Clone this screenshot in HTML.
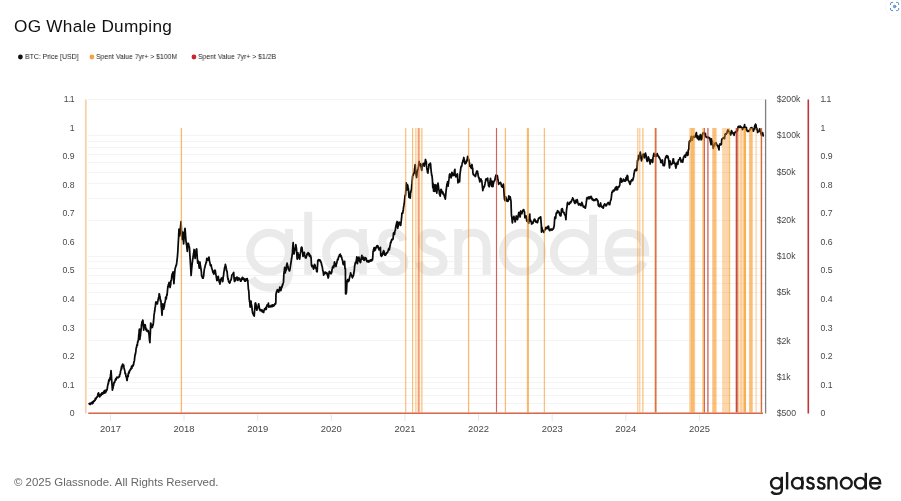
<!DOCTYPE html>
<html><head><meta charset="utf-8"><title>OG Whale Dumping</title>
<style>
html,body{margin:0;padding:0;background:#fff;}
body{width:901px;height:501px;position:relative;overflow:hidden;font-family:"Liberation Sans",sans-serif;}
.title{position:absolute;left:14px;top:14.9px;font-size:17.2px;line-height:22px;color:#111;white-space:nowrap;letter-spacing:0.27px;will-change:transform}
.leg{position:absolute;top:51.9px;font-size:7.6px;line-height:9px;color:#1c1c1c;white-space:nowrap;transform:scaleX(.904);transform-origin:0 0;will-change:transform}
.dot{position:absolute;top:54.4px;width:5.2px;height:5.2px;border-radius:50%}
.foot{position:absolute;left:14px;top:474.7px;font-size:11.46px;line-height:14px;color:#666;white-space:nowrap;will-change:transform}
svg{position:absolute;left:0;top:0;will-change:transform}
text{font-family:"Liberation Sans",sans-serif}
</style></head><body>
<svg width="901" height="501" viewBox="0 0 901 501">
<defs><g id="gn" fill="none" stroke="currentColor" stroke-width="2.4" stroke-linecap="butt">
<circle cx="6.4" cy="-6.3" r="5.35"/>
<path d="M11.8,-12.7V0.00Q11.8,4.4 6.6,4.4Q3,4.4 1.5,1.80"/>
<path d="M17.1,-17.45V-0.1"/>
<circle cx="27.4" cy="-6.3" r="5.35"/>
<path d="M32.2,-12.7V-0.1"/>
<path d="M43.40,-9.5Q42.70,-11.7 40.20,-11.7Q37.60,-11.7 37.60,-9.3Q37.60,-7.3 40.30,-6.6Q43.70,-5.8 43.70,-3.5Q43.70,-0.85 40.40,-0.85Q37.60,-0.85 36.90,-3.5"/>
<path d="M54.20,-9.5Q53.50,-11.7 51.00,-11.7Q48.40,-11.7 48.40,-9.3Q48.40,-7.3 51.10,-6.6Q54.50,-5.8 54.50,-3.5Q54.50,-0.85 51.20,-0.85Q48.40,-0.85 47.70,-3.5"/>
<path d="M58.55,-12.7V-0.1M58.55,-7.3Q58.55,-11.7 62.5,-11.7Q66.4,-11.7 66.4,-7.3V-0.1"/>
<circle cx="76.3" cy="-6.3" r="5.4"/>
<circle cx="90.3" cy="-6.3" r="5.35"/>
<path d="M95.8,-16.65V-0.1"/>
<path d="M100.2,-6.3H110.2Q110.2,-11.7 105.1,-11.7Q100.1,-11.6 100.1,-6.3Q100.1,-0.9 105.2,-0.9Q108.6,-0.9 109.8,-3.6"/>
</g><g id="gw" fill="none" stroke="currentColor" stroke-width="2.2" stroke-linecap="butt">
<circle cx="6.4" cy="-6.3" r="5.35"/>
<path d="M11.8,-12.7V-0.90Q11.8,3.5 6.6,3.5Q3,3.5 1.5,0.90"/>
<path d="M17.1,-17.45V-0.1"/>
<circle cx="27.4" cy="-6.3" r="5.35"/>
<path d="M32.2,-12.7V-0.1"/>
<path d="M43.40,-9.5Q42.70,-11.7 40.20,-11.7Q37.60,-11.7 37.60,-9.3Q37.60,-7.3 40.30,-6.6Q43.70,-5.8 43.70,-3.5Q43.70,-0.85 40.40,-0.85Q37.60,-0.85 36.90,-3.5"/>
<path d="M54.20,-9.5Q53.50,-11.7 51.00,-11.7Q48.40,-11.7 48.40,-9.3Q48.40,-7.3 51.10,-6.6Q54.50,-5.8 54.50,-3.5Q54.50,-0.85 51.20,-0.85Q48.40,-0.85 47.70,-3.5"/>
<path d="M58.55,-12.7V-0.1M58.55,-7.3Q58.55,-11.7 62.5,-11.7Q66.4,-11.7 66.4,-7.3V-0.1"/>
<circle cx="76.3" cy="-6.3" r="5.4"/>
<circle cx="90.3" cy="-6.3" r="5.35"/>
<path d="M95.8,-16.65V-0.1"/>
<path d="M100.2,-6.3H110.2Q110.2,-11.7 105.1,-11.7Q100.1,-11.6 100.1,-6.3Q100.1,-0.9 105.2,-0.9Q108.6,-0.9 109.8,-3.6"/>
</g></defs>
<line x1="88.3" x2="765.5" y1="403.5" y2="403.5" stroke="#f4f4f7" stroke-width="1"/>
<line x1="88.3" x2="765.5" y1="395.5" y2="395.5" stroke="#f4f4f7" stroke-width="1"/>
<line x1="88.3" x2="765.5" y1="388.5" y2="388.5" stroke="#f4f4f7" stroke-width="1"/>
<line x1="88.3" x2="765.5" y1="382.5" y2="382.5" stroke="#f4f4f7" stroke-width="1"/>
<line x1="88.3" x2="765.5" y1="377.5" y2="377.5" stroke="#f4f4f7" stroke-width="1"/>
<line x1="88.3" x2="765.5" y1="340.5" y2="340.5" stroke="#f4f4f7" stroke-width="1"/>
<line x1="88.3" x2="765.5" y1="319.5" y2="319.5" stroke="#f4f4f7" stroke-width="1"/>
<line x1="88.3" x2="765.5" y1="304.5" y2="304.5" stroke="#f4f4f7" stroke-width="1"/>
<line x1="88.3" x2="765.5" y1="292.5" y2="292.5" stroke="#f4f4f7" stroke-width="1"/>
<line x1="88.3" x2="765.5" y1="283.5" y2="283.5" stroke="#f4f4f7" stroke-width="1"/>
<line x1="88.3" x2="765.5" y1="275.5" y2="275.5" stroke="#f4f4f7" stroke-width="1"/>
<line x1="88.3" x2="765.5" y1="268.5" y2="268.5" stroke="#f4f4f7" stroke-width="1"/>
<line x1="88.3" x2="765.5" y1="261.5" y2="261.5" stroke="#f4f4f7" stroke-width="1"/>
<line x1="88.3" x2="765.5" y1="256.5" y2="256.5" stroke="#f4f4f7" stroke-width="1"/>
<line x1="88.3" x2="765.5" y1="220.5" y2="220.5" stroke="#f4f4f7" stroke-width="1"/>
<line x1="88.3" x2="765.5" y1="198.5" y2="198.5" stroke="#f4f4f7" stroke-width="1"/>
<line x1="88.3" x2="765.5" y1="183.5" y2="183.5" stroke="#f4f4f7" stroke-width="1"/>
<line x1="88.3" x2="765.5" y1="172.5" y2="172.5" stroke="#f4f4f7" stroke-width="1"/>
<line x1="88.3" x2="765.5" y1="162.5" y2="162.5" stroke="#f4f4f7" stroke-width="1"/>
<line x1="88.3" x2="765.5" y1="154.5" y2="154.5" stroke="#f4f4f7" stroke-width="1"/>
<line x1="88.3" x2="765.5" y1="147.5" y2="147.5" stroke="#f4f4f7" stroke-width="1"/>
<line x1="88.3" x2="765.5" y1="141.5" y2="141.5" stroke="#f4f4f7" stroke-width="1"/>
<line x1="88.3" x2="765.5" y1="135.5" y2="135.5" stroke="#f4f4f7" stroke-width="1"/>
<line x1="88.3" x2="765.5" y1="99.5" y2="99.5" stroke="#f4f4f7" stroke-width="1"/>
<line x1="88.3" x2="765.5" y1="99.5" y2="99.5" stroke="#f4f4f7" stroke-width="1"/>
<use href="#gw" transform="translate(246.3,275) scale(3.62)" color="#eaeaea"/>
<line x1="110.4" x2="110.4" y1="414.4" y2="420.9" stroke="#e6e6e6" stroke-width="1"/>
<line x1="184.03" x2="184.03" y1="414.4" y2="420.9" stroke="#e6e6e6" stroke-width="1"/>
<line x1="257.66" x2="257.66" y1="414.4" y2="420.9" stroke="#e6e6e6" stroke-width="1"/>
<line x1="331.29" x2="331.29" y1="414.4" y2="420.9" stroke="#e6e6e6" stroke-width="1"/>
<line x1="404.92" x2="404.92" y1="414.4" y2="420.9" stroke="#e6e6e6" stroke-width="1"/>
<line x1="478.55" x2="478.55" y1="414.4" y2="420.9" stroke="#e6e6e6" stroke-width="1"/>
<line x1="552.18" x2="552.18" y1="414.4" y2="420.9" stroke="#e6e6e6" stroke-width="1"/>
<line x1="625.81" x2="625.81" y1="414.4" y2="420.9" stroke="#e6e6e6" stroke-width="1"/>
<line x1="699.44" x2="699.44" y1="414.4" y2="420.9" stroke="#e6e6e6" stroke-width="1"/>
<path d="M89.1,403.6 L89.3,403.8 L89.5,403.4 L89.7,403.9 L89.9,404.0 L90.1,404.5 L90.3,404.1 L90.5,404.0 L90.7,403.1 L90.9,403.4 L91.1,402.8 L91.3,403.2 L91.5,402.9 L91.7,402.9 L91.9,402.8 L92.1,403.8 L92.3,401.9 L92.5,402.0 L92.7,401.8 L92.9,403.1 L93.1,403.0 L93.3,402.2 L93.5,401.8 L93.7,401.1 L93.9,401.2 L94.1,400.6 L94.3,401.2 L94.5,400.4 L94.7,400.5 L94.9,399.9 L95.1,400.3 L95.3,398.4 L95.5,398.9 L95.7,398.1 L95.9,399.1 L96.1,398.8 L96.3,398.3 L96.5,397.8 L96.7,397.0 L96.9,397.0 L97.1,397.1 L97.3,396.5 L97.5,396.6 L97.7,395.7 L97.9,393.9 L98.1,394.6 L98.3,393.3 L98.5,392.9 L98.7,393.5 L98.9,395.8 L99.1,395.8 L99.3,395.6 L99.5,394.6 L99.7,396.8 L99.9,395.5 L100.1,395.2 L100.3,395.6 L100.5,394.6 L100.7,394.8 L100.9,394.7 L101.1,395.5 L101.3,393.7 L101.5,393.7 L101.7,393.3 L102.0,392.8 L102.2,393.3 L102.4,393.3 L102.6,394.1 L102.8,392.6 L103.0,393.3 L103.2,393.0 L103.4,393.4 L103.6,393.0 L103.8,392.5 L104.0,391.1 L104.2,391.8 L104.4,393.1 L104.6,392.6 L104.8,391.3 L105.0,390.3 L105.2,390.8 L105.4,392.4 L105.6,392.7 L105.8,390.6 L106.0,391.2 L106.2,391.3 L106.4,389.8 L106.6,389.6 L106.8,390.1 L107.0,390.1 L107.2,388.8 L107.4,387.6 L107.6,385.8 L107.8,385.3 L108.0,384.3 L108.2,383.2 L108.4,383.6 L108.6,381.4 L108.8,380.1 L109.0,379.8 L109.2,379.6 L109.4,380.8 L109.6,379.4 L109.8,378.0 L110.0,379.3 L110.2,377.7 L110.4,377.1 L110.6,374.2 L110.8,373.7 L111.0,370.7 L111.2,372.3 L111.4,375.8 L111.6,379.1 L111.8,381.5 L112.0,384.1 L112.2,387.2 L112.4,390.1 L112.6,388.5 L112.8,388.9 L113.0,387.9 L113.2,386.1 L113.4,385.9 L113.6,385.7 L113.8,383.6 L114.0,382.4 L114.2,382.6 L114.4,382.5 L114.6,382.7 L114.8,381.5 L115.0,381.1 L115.2,380.8 L115.4,379.3 L115.6,380.5 L115.8,378.6 L116.0,379.9 L116.3,379.2 L116.5,377.8 L116.7,377.9 L116.9,377.1 L117.1,377.2 L117.3,377.5 L117.5,377.6 L117.7,377.6 L117.9,377.3 L118.1,377.8 L118.3,377.6 L118.5,377.2 L118.7,376.9 L118.9,377.1 L119.1,376.4 L119.3,376.3 L119.5,376.6 L119.7,374.3 L119.9,374.5 L120.1,374.1 L120.3,373.2 L120.5,372.0 L120.7,370.5 L120.9,370.4 L121.1,369.0 L121.3,368.4 L121.5,366.5 L121.7,368.9 L121.9,367.3 L122.1,365.8 L122.3,365.1 L122.5,364.6 L122.7,364.1 L122.9,365.0 L123.1,364.8 L123.3,365.6 L123.5,366.7 L123.7,365.2 L123.9,367.2 L124.1,368.0 L124.3,369.1 L124.5,369.6 L124.7,370.5 L124.9,371.2 L125.1,373.8 L125.3,373.1 L125.5,373.5 L125.7,373.8 L125.9,376.3 L126.1,376.5 L126.3,376.8 L126.5,377.8 L126.7,378.3 L126.9,380.3 L127.1,380.5 L127.3,378.7 L127.5,377.7 L127.7,376.1 L128.0,374.9 L128.2,376.5 L128.4,373.0 L128.6,372.8 L128.8,373.5 L129.0,371.7 L129.2,372.9 L129.4,371.4 L129.6,370.4 L129.8,371.0 L130.0,370.5 L130.2,369.7 L130.4,369.9 L130.6,369.7 L130.8,368.3 L131.0,368.3 L131.2,368.9 L131.4,368.4 L131.6,366.1 L131.8,368.4 L132.0,366.6 L132.2,367.0 L132.4,366.4 L132.6,365.6 L132.8,365.6 L133.0,364.9 L133.2,366.0 L133.4,364.5 L133.6,364.6 L133.8,362.2 L134.0,362.3 L134.2,361.3 L134.4,360.7 L134.6,358.7 L134.8,356.6 L135.0,355.8 L135.2,354.0 L135.4,354.5 L135.6,352.6 L135.8,352.2 L136.0,349.7 L136.2,347.9 L136.4,347.7 L136.6,347.5 L136.8,345.1 L137.0,344.7 L137.2,344.7 L137.4,345.1 L137.6,342.0 L137.8,342.2 L138.0,341.7 L138.2,340.2 L138.4,339.7 L138.6,337.3 L138.8,334.4 L139.0,334.0 L139.2,330.4 L139.4,329.1 L139.7,333.6 L139.9,339.5 L140.1,336.8 L140.3,336.3 L140.5,335.0 L140.7,332.2 L140.9,331.2 L141.1,329.2 L141.3,327.4 L141.5,324.6 L141.7,323.9 L141.9,321.8 L142.1,323.1 L142.3,321.5 L142.5,322.2 L142.7,320.1 L142.9,320.4 L143.1,322.6 L143.3,325.7 L143.5,327.7 L143.7,330.1 L143.9,328.4 L144.1,327.9 L144.3,325.9 L144.5,325.8 L144.7,324.6 L144.9,324.6 L145.1,324.9 L145.3,325.4 L145.5,327.6 L145.7,327.2 L145.9,329.7 L146.1,329.1 L146.3,330.1 L146.5,330.9 L146.7,329.1 L146.9,330.1 L147.1,331.2 L147.3,330.6 L147.5,331.0 L147.7,331.1 L147.9,331.7 L148.1,331.4 L148.3,330.6 L148.5,332.0 L148.7,332.3 L148.9,333.7 L149.1,335.1 L149.3,337.6 L149.5,340.0 L149.7,341.3 L149.9,342.6 L150.1,337.0 L150.3,334.0 L150.5,328.4 L150.7,323.1 L150.9,323.3 L151.1,324.4 L151.4,325.8 L151.6,326.2 L151.8,327.6 L152.0,327.0 L152.2,327.5 L152.4,327.3 L152.6,326.2 L152.8,324.7 L153.0,325.3 L153.2,324.4 L153.4,322.8 L153.6,320.4 L153.8,318.6 L154.0,315.3 L154.2,313.9 L154.4,313.2 L154.6,310.7 L154.8,311.1 L155.0,307.9 L155.2,307.1 L155.4,306.5 L155.6,303.8 L155.8,302.5 L156.0,301.9 L156.2,302.3 L156.4,303.9 L156.6,303.3 L156.8,302.8 L157.0,303.5 L157.2,303.0 L157.4,303.8 L157.6,302.3 L157.8,301.3 L158.0,300.6 L158.2,298.9 L158.4,298.3 L158.6,297.5 L158.8,298.2 L159.0,295.2 L159.2,293.9 L159.4,293.8 L159.6,295.4 L159.8,296.9 L160.0,296.7 L160.2,299.4 L160.4,301.0 L160.6,299.9 L160.8,300.6 L161.0,301.4 L161.2,306.2 L161.4,307.5 L161.6,309.1 L161.8,312.9 L162.0,315.3 L162.2,312.0 L162.4,308.9 L162.6,307.3 L162.8,303.8 L163.1,305.2 L163.3,306.3 L163.5,307.3 L163.7,309.2 L163.9,308.2 L164.1,307.2 L164.3,306.6 L164.5,305.1 L164.7,303.2 L164.9,302.6 L165.1,302.2 L165.3,301.1 L165.5,299.4 L165.7,297.1 L165.9,297.6 L166.1,297.4 L166.3,299.0 L166.5,296.3 L166.7,295.8 L166.9,294.5 L167.1,295.1 L167.3,292.6 L167.5,290.7 L167.7,288.2 L167.9,286.3 L168.1,287.2 L168.3,284.7 L168.5,284.7 L168.7,285.0 L168.9,283.2 L169.1,282.4 L169.3,283.2 L169.5,285.2 L169.7,285.8 L169.9,286.3 L170.1,287.5 L170.3,286.1 L170.5,285.2 L170.7,284.3 L170.9,280.8 L171.1,280.2 L171.3,280.4 L171.5,279.2 L171.7,277.0 L171.9,275.1 L172.1,274.8 L172.3,273.5 L172.5,273.5 L172.7,273.9 L172.9,272.4 L173.1,271.8 L173.3,276.2 L173.5,278.2 L173.7,280.7 L173.9,283.6 L174.1,280.4 L174.3,278.4 L174.5,275.2 L174.8,271.9 L175.0,269.4 L175.2,268.4 L175.4,267.6 L175.6,267.1 L175.8,266.8 L176.0,265.3 L176.2,265.1 L176.4,265.0 L176.6,263.7 L176.8,262.4 L177.0,260.3 L177.2,258.7 L177.4,256.9 L177.6,254.3 L177.8,251.9 L178.0,248.1 L178.2,244.2 L178.4,240.6 L178.6,237.6 L178.8,232.7 L179.0,229.2 L179.2,230.7 L179.4,233.3 L179.6,235.9 L179.8,234.0 L180.0,231.5 L180.2,230.4 L180.4,229.0 L180.6,225.7 L180.8,224.3 L181.0,221.7 L181.2,224.7 L181.4,229.5 L181.6,234.2 L181.8,236.7 L182.0,239.5 L182.2,236.6 L182.4,236.1 L182.6,234.9 L182.8,232.1 L183.0,235.6 L183.2,237.6 L183.4,240.6 L183.6,243.9 L183.8,241.5 L184.0,238.4 L184.2,236.7 L184.4,235.0 L184.6,232.3 L184.8,229.4 L185.0,228.3 L185.2,230.2 L185.4,232.7 L185.6,236.7 L185.8,238.6 L186.0,241.1 L186.2,242.3 L186.5,244.7 L186.7,245.5 L186.9,247.6 L187.1,249.1 L187.3,251.4 L187.5,248.9 L187.7,244.4 L187.9,243.5 L188.1,243.2 L188.3,244.8 L188.5,245.2 L188.7,244.0 L188.9,246.6 L189.1,246.4 L189.3,246.9 L189.5,248.2 L189.7,251.5 L189.9,255.6 L190.1,257.9 L190.3,261.3 L190.5,264.6 L190.7,267.6 L190.9,271.4 L191.1,275.5 L191.3,273.2 L191.5,270.4 L191.7,268.4 L191.9,266.4 L192.1,264.3 L192.3,262.7 L192.5,261.3 L192.7,259.1 L192.9,258.7 L193.1,256.4 L193.3,255.5 L193.5,253.6 L193.7,253.3 L193.9,251.2 L194.1,249.5 L194.3,252.7 L194.5,253.6 L194.7,254.5 L194.9,256.4 L195.1,258.5 L195.3,256.9 L195.5,255.4 L195.7,254.5 L195.9,251.9 L196.1,249.9 L196.3,250.1 L196.5,249.0 L196.7,249.1 L196.9,252.5 L197.1,254.8 L197.3,258.7 L197.5,259.8 L197.7,263.1 L197.9,261.8 L198.2,263.0 L198.4,261.1 L198.6,262.5 L198.8,263.4 L199.0,266.5 L199.2,267.9 L199.4,268.1 L199.6,266.9 L199.8,264.6 L200.0,262.2 L200.2,264.7 L200.4,265.3 L200.6,266.7 L200.8,268.0 L201.0,269.5 L201.2,270.5 L201.4,272.3 L201.6,275.6 L201.8,276.2 L202.0,276.6 L202.2,276.6 L202.4,277.6 L202.6,278.0 L202.8,277.6 L203.0,277.9 L203.2,278.2 L203.4,276.3 L203.6,276.1 L203.8,274.3 L204.0,271.9 L204.2,270.5 L204.4,268.8 L204.6,268.2 L204.8,267.3 L205.0,267.0 L205.2,265.3 L205.4,264.8 L205.6,264.4 L205.8,264.0 L206.0,262.8 L206.2,261.8 L206.4,262.4 L206.6,260.1 L206.8,258.3 L207.0,258.7 L207.2,260.1 L207.4,259.4 L207.6,259.9 L207.8,259.4 L208.0,260.1 L208.2,258.9 L208.4,258.6 L208.6,257.7 L208.8,257.2 L209.0,257.2 L209.2,258.6 L209.4,260.6 L209.6,261.5 L209.9,262.8 L210.1,263.6 L210.3,265.5 L210.5,265.2 L210.7,265.7 L210.9,266.0 L211.1,264.9 L211.3,266.0 L211.5,267.1 L211.7,268.1 L211.9,268.3 L212.1,269.4 L212.3,269.8 L212.5,270.3 L212.7,271.5 L212.9,272.3 L213.1,270.9 L213.3,273.2 L213.5,272.7 L213.7,274.0 L213.9,273.3 L214.1,271.9 L214.3,273.7 L214.5,271.9 L214.7,270.6 L214.9,270.1 L215.1,270.7 L215.3,270.5 L215.5,272.8 L215.7,273.2 L215.9,274.5 L216.1,275.4 L216.3,277.0 L216.5,277.9 L216.7,279.5 L216.9,280.6 L217.1,279.7 L217.3,280.1 L217.5,278.0 L217.7,278.9 L217.9,277.4 L218.1,277.0 L218.3,276.3 L218.5,278.7 L218.7,279.3 L218.9,279.3 L219.1,280.9 L219.3,282.3 L219.5,282.3 L219.7,282.9 L219.9,284.1 L220.1,282.7 L220.3,282.9 L220.5,280.3 L220.7,279.6 L220.9,279.8 L221.1,278.8 L221.3,278.2 L221.6,278.9 L221.8,278.1 L222.0,280.1 L222.2,279.6 L222.4,280.8 L222.6,281.5 L222.8,281.5 L223.0,279.3 L223.2,277.1 L223.4,276.3 L223.6,275.1 L223.8,272.9 L224.0,271.3 L224.2,270.8 L224.4,269.5 L224.6,267.7 L224.8,266.9 L225.0,266.9 L225.2,265.5 L225.4,264.3 L225.6,266.2 L225.8,265.9 L226.0,266.8 L226.2,268.2 L226.4,268.8 L226.6,271.0 L226.8,270.8 L227.0,271.0 L227.2,272.7 L227.4,275.1 L227.6,277.0 L227.8,278.2 L228.0,279.4 L228.2,278.5 L228.4,280.7 L228.6,281.5 L228.8,281.8 L229.0,282.3 L229.2,282.5 L229.4,282.7 L229.6,283.1 L229.8,282.0 L230.0,282.6 L230.2,281.3 L230.4,280.7 L230.6,280.2 L230.8,280.3 L231.0,279.8 L231.2,279.6 L231.4,278.0 L231.6,277.6 L231.8,275.3 L232.0,275.0 L232.2,274.7 L232.4,274.5 L232.6,274.4 L232.8,274.3 L233.0,274.1 L233.3,273.4 L233.5,272.6 L233.7,272.5 L233.9,275.5 L234.1,279.0 L234.3,280.0 L234.5,281.5 L234.7,279.6 L234.9,281.1 L235.1,280.2 L235.3,277.9 L235.5,280.7 L235.7,279.0 L235.9,279.0 L236.1,278.3 L236.3,278.0 L236.5,277.6 L236.7,277.7 L236.9,277.0 L237.1,277.0 L237.3,277.7 L237.5,277.9 L237.7,280.4 L237.9,279.8 L238.1,280.1 L238.3,279.3 L238.5,279.7 L238.7,279.4 L238.9,278.0 L239.1,278.2 L239.3,278.9 L239.5,278.3 L239.7,278.5 L239.9,279.1 L240.1,279.3 L240.3,280.0 L240.5,281.1 L240.7,280.5 L240.9,280.4 L241.1,281.0 L241.3,280.7 L241.5,279.7 L241.7,278.4 L241.9,278.2 L242.1,278.9 L242.3,278.0 L242.5,277.3 L242.7,279.0 L242.9,278.7 L243.1,279.0 L243.3,278.0 L243.5,278.9 L243.7,278.6 L243.9,279.4 L244.1,280.0 L244.3,279.6 L244.5,279.7 L244.7,281.1 L245.0,279.0 L245.2,279.5 L245.4,280.2 L245.6,281.2 L245.8,279.3 L246.0,279.7 L246.2,279.1 L246.4,278.9 L246.6,279.0 L246.8,280.2 L247.0,279.5 L247.2,278.6 L247.4,280.2 L247.6,280.7 L247.8,280.2 L248.0,283.9 L248.2,286.3 L248.4,289.2 L248.6,290.1 L248.8,291.2 L249.0,294.3 L249.2,298.8 L249.4,300.2 L249.6,302.0 L249.8,302.3 L250.0,305.8 L250.2,307.1 L250.4,306.1 L250.6,303.8 L250.8,302.3 L251.0,301.2 L251.2,303.2 L251.4,304.6 L251.6,304.9 L251.8,306.4 L252.0,307.9 L252.2,310.4 L252.4,311.4 L252.6,312.9 L252.8,313.6 L253.0,313.5 L253.2,314.2 L253.4,314.6 L253.6,315.1 L253.8,314.8 L254.0,315.0 L254.2,316.1 L254.4,313.7 L254.6,310.5 L254.8,308.7 L255.0,305.7 L255.2,303.1 L255.4,303.1 L255.6,303.0 L255.8,304.3 L256.0,304.4 L256.2,306.3 L256.4,308.0 L256.7,309.9 L256.9,310.2 L257.1,308.8 L257.3,308.6 L257.5,307.5 L257.7,307.1 L257.9,307.0 L258.1,306.8 L258.3,305.1 L258.5,304.3 L258.7,303.8 L258.9,305.4 L259.1,306.0 L259.3,308.0 L259.5,309.2 L259.7,309.7 L259.9,309.3 L260.1,310.5 L260.3,310.2 L260.5,310.0 L260.7,309.6 L260.9,310.3 L261.1,310.2 L261.3,310.9 L261.5,310.7 L261.7,310.7 L261.9,310.2 L262.1,311.6 L262.3,310.2 L262.5,311.9 L262.7,311.8 L262.9,311.9 L263.1,312.2 L263.3,311.4 L263.5,312.3 L263.7,312.5 L263.9,310.8 L264.1,310.4 L264.3,310.2 L264.5,308.9 L264.7,309.9 L264.9,309.6 L265.1,309.0 L265.3,309.2 L265.5,308.7 L265.7,307.7 L265.9,308.8 L266.1,308.0 L266.3,309.3 L266.5,306.7 L266.7,307.0 L266.9,306.0 L267.1,305.0 L267.3,305.7 L267.5,305.2 L267.7,304.8 L267.9,304.4 L268.1,304.1 L268.4,303.1 L268.6,305.3 L268.8,307.1 L269.0,306.7 L269.2,306.9 L269.4,306.8 L269.6,306.9 L269.8,306.2 L270.0,306.3 L270.2,306.6 L270.4,306.4 L270.6,306.0 L270.8,306.4 L271.0,306.8 L271.2,305.4 L271.4,305.8 L271.6,306.5 L271.8,305.4 L272.0,305.7 L272.2,306.6 L272.4,305.7 L272.6,304.8 L272.8,305.4 L273.0,305.1 L273.2,305.4 L273.4,305.5 L273.6,306.2 L273.8,304.8 L274.0,305.2 L274.2,305.3 L274.4,305.1 L274.6,304.5 L274.8,304.3 L275.0,303.6 L275.2,303.8 L275.4,303.3 L275.6,304.0 L275.8,302.5 L276.0,293.8 L276.2,293.5 L276.4,292.4 L276.6,291.5 L276.8,291.9 L277.0,291.3 L277.2,289.9 L277.4,290.4 L277.6,289.7 L277.8,289.8 L278.0,289.8 L278.2,291.2 L278.4,291.1 L278.6,292.2 L278.8,292.0 L279.0,290.9 L279.2,290.4 L279.4,289.7 L279.6,288.5 L279.8,287.2 L280.1,288.2 L280.3,287.3 L280.5,289.2 L280.7,290.7 L280.9,289.8 L281.1,289.9 L281.3,288.4 L281.5,287.7 L281.7,287.5 L281.9,286.4 L282.1,286.9 L282.3,285.4 L282.5,284.4 L282.7,285.0 L282.9,284.0 L283.1,283.3 L283.3,282.7 L283.5,281.9 L283.7,277.4 L283.9,273.6 L284.1,272.0 L284.3,270.7 L284.5,268.7 L284.7,267.4 L284.9,269.6 L285.1,272.9 L285.3,272.3 L285.5,271.6 L285.7,270.6 L285.9,270.5 L286.1,270.1 L286.3,269.4 L286.5,266.0 L286.7,264.7 L286.9,265.5 L287.1,263.1 L287.3,264.1 L287.5,264.9 L287.7,266.2 L287.9,266.3 L288.1,267.1 L288.3,268.3 L288.5,269.3 L288.7,269.4 L288.9,270.1 L289.1,269.6 L289.3,270.8 L289.5,270.9 L289.7,270.4 L289.9,269.2 L290.1,269.0 L290.3,266.9 L290.5,265.8 L290.7,264.1 L290.9,263.1 L291.1,262.0 L291.3,260.6 L291.5,258.9 L291.8,257.3 L292.0,256.1 L292.2,254.3 L292.4,252.9 L292.6,249.9 L292.8,247.1 L293.0,244.3 L293.2,242.7 L293.4,250.9 L293.6,251.9 L293.8,252.4 L294.0,254.0 L294.2,253.3 L294.4,252.4 L294.6,250.3 L294.8,250.6 L295.0,249.1 L295.2,247.7 L295.4,247.6 L295.6,245.6 L295.8,244.7 L296.0,245.7 L296.2,247.7 L296.4,247.7 L296.6,250.4 L296.8,252.8 L297.0,257.2 L297.2,259.1 L297.4,257.1 L297.6,255.9 L297.8,254.2 L298.0,252.9 L298.2,253.8 L298.4,254.5 L298.6,256.4 L298.8,257.5 L299.0,257.4 L299.2,258.5 L299.4,258.3 L299.6,259.1 L299.8,258.1 L300.0,256.3 L300.2,253.9 L300.4,253.2 L300.6,252.1 L300.8,251.2 L301.0,249.6 L301.2,247.7 L301.4,247.6 L301.6,247.1 L301.8,247.3 L302.0,247.5 L302.2,249.0 L302.4,251.1 L302.6,252.1 L302.8,254.8 L303.0,256.4 L303.3,256.0 L303.5,254.6 L303.7,254.3 L303.9,253.9 L304.1,253.3 L304.3,252.4 L304.5,254.2 L304.7,255.9 L304.9,255.9 L305.1,256.4 L305.3,257.6 L305.5,257.1 L305.7,257.5 L305.9,258.0 L306.1,257.9 L306.3,256.4 L306.5,256.4 L306.7,255.8 L306.9,254.7 L307.1,253.8 L307.3,254.3 L307.5,253.3 L307.7,253.3 L307.9,254.2 L308.1,252.7 L308.3,254.3 L308.5,253.6 L308.7,254.8 L308.9,254.6 L309.1,254.3 L309.3,253.7 L309.5,256.3 L309.7,255.3 L309.9,255.0 L310.1,255.4 L310.3,255.9 L310.5,256.8 L310.7,255.8 L310.9,257.4 L311.1,258.0 L311.3,262.3 L311.5,265.5 L311.7,265.2 L311.9,266.6 L312.1,265.2 L312.3,266.3 L312.5,266.0 L312.7,266.2 L312.9,266.0 L313.1,267.1 L313.3,268.4 L313.5,269.1 L313.7,268.8 L313.9,267.0 L314.1,266.1 L314.3,265.8 L314.5,264.3 L314.7,264.5 L315.0,265.3 L315.2,265.9 L315.4,268.0 L315.6,267.6 L315.8,268.1 L316.0,268.2 L316.2,268.8 L316.4,269.2 L316.6,271.5 L316.8,270.7 L317.0,271.0 L317.2,271.8 L317.4,266.7 L317.6,264.8 L317.8,260.5 L318.0,260.6 L318.2,260.4 L318.4,259.9 L318.6,260.5 L318.8,259.6 L319.0,260.6 L319.2,260.0 L319.4,260.3 L319.6,259.9 L319.8,259.9 L320.0,260.6 L320.2,261.4 L320.4,260.4 L320.6,261.1 L320.8,261.6 L321.0,262.6 L321.2,262.8 L321.4,263.1 L321.6,264.8 L321.8,264.9 L322.0,266.0 L322.2,266.6 L322.4,267.6 L322.6,269.0 L322.8,270.9 L323.0,270.8 L323.2,271.6 L323.4,273.5 L323.6,275.1 L323.8,274.7 L324.0,274.4 L324.2,273.7 L324.4,273.7 L324.6,273.5 L324.8,273.0 L325.0,272.2 L325.2,272.6 L325.4,272.7 L325.6,273.1 L325.8,272.3 L326.0,273.5 L326.2,272.6 L326.4,273.5 L326.7,272.9 L326.9,273.3 L327.1,273.2 L327.3,274.4 L327.5,275.6 L327.7,275.8 L327.9,276.4 L328.1,278.0 L328.3,277.8 L328.5,276.8 L328.7,275.2 L328.9,274.2 L329.1,272.7 L329.3,271.5 L329.5,271.4 L329.7,271.8 L329.9,272.1 L330.1,272.6 L330.3,273.3 L330.5,273.5 L330.7,273.4 L330.9,273.6 L331.1,273.7 L331.3,273.6 L331.5,272.6 L331.7,272.4 L331.9,270.5 L332.1,269.3 L332.3,268.7 L332.5,267.1 L332.7,267.1 L332.9,266.9 L333.1,267.2 L333.3,266.0 L333.5,267.1 L333.7,267.7 L333.9,265.7 L334.1,265.8 L334.3,263.5 L334.5,261.9 L334.7,262.5 L334.9,264.3 L335.1,263.4 L335.3,263.7 L335.5,264.6 L335.7,264.6 L335.9,266.5 L336.1,265.9 L336.3,264.5 L336.5,263.9 L336.7,263.2 L336.9,262.6 L337.1,261.1 L337.3,260.8 L337.5,259.6 L337.7,259.1 L337.9,259.1 L338.1,259.7 L338.3,258.1 L338.5,257.7 L338.7,257.1 L338.9,256.3 L339.1,256.6 L339.3,255.7 L339.5,254.8 L339.7,254.6 L339.9,254.7 L340.1,254.3 L340.3,254.1 L340.5,255.8 L340.7,256.5 L340.9,255.6 L341.1,255.8 L341.3,256.0 L341.5,257.0 L341.8,257.7 L342.0,259.0 L342.2,259.7 L342.4,259.9 L342.6,260.4 L342.8,262.3 L343.0,263.7 L343.2,264.2 L343.4,264.6 L343.6,262.8 L343.8,262.5 L344.0,263.3 L344.2,262.8 L344.4,261.8 L344.6,261.3 L344.8,265.3 L345.0,268.8 L345.2,268.3 L345.4,268.8 L345.6,293.8 L345.8,293.6 L346.0,293.8 L346.2,292.3 L346.4,292.7 L346.6,289.3 L346.8,285.1 L347.0,281.5 L347.2,280.9 L347.4,280.6 L347.6,279.7 L347.8,279.4 L348.0,280.1 L348.2,281.0 L348.4,281.5 L348.6,281.4 L348.8,281.0 L349.0,280.5 L349.2,279.3 L349.4,278.4 L349.6,277.2 L349.8,276.6 L350.0,275.6 L350.2,275.2 L350.4,274.2 L350.6,272.9 L350.8,274.5 L351.0,274.1 L351.2,274.3 L351.4,274.8 L351.6,275.7 L351.8,276.2 L352.0,276.2 L352.2,277.2 L352.4,277.8 L352.6,277.0 L352.8,276.7 L353.0,276.5 L353.2,275.5 L353.4,275.8 L353.6,274.8 L353.8,273.4 L354.0,271.8 L354.2,270.8 L354.4,269.3 L354.6,266.6 L354.8,265.1 L355.0,264.5 L355.2,263.1 L355.4,262.7 L355.6,262.2 L355.8,262.2 L356.0,262.5 L356.2,260.5 L356.4,260.4 L356.6,258.7 L356.8,256.9 L357.0,258.9 L357.2,260.7 L357.4,263.7 L357.6,262.2 L357.8,261.2 L358.0,259.4 L358.2,257.7 L358.4,258.1 L358.6,258.3 L358.9,257.1 L359.1,258.0 L359.3,259.5 L359.5,260.4 L359.7,261.6 L359.9,260.7 L360.1,261.4 L360.3,262.1 L360.5,262.5 L360.7,261.8 L360.9,260.3 L361.1,258.6 L361.3,258.1 L361.5,256.7 L361.7,256.3 L361.9,255.4 L362.1,259.1 L362.3,258.6 L362.5,258.7 L362.7,258.2 L362.9,257.5 L363.1,258.7 L363.3,257.7 L363.5,257.3 L363.7,257.2 L363.9,260.2 L364.1,260.3 L364.3,259.9 L364.5,259.2 L364.7,259.4 L364.9,258.2 L365.1,258.7 L365.3,258.7 L365.5,259.6 L365.7,257.6 L365.9,258.4 L366.1,258.3 L366.3,259.0 L366.5,260.2 L366.7,260.3 L366.9,261.5 L367.1,261.6 L367.3,261.6 L367.5,261.3 L367.7,261.5 L367.9,261.3 L368.1,261.9 L368.3,260.7 L368.5,261.7 L368.7,261.3 L368.9,262.1 L369.1,261.1 L369.3,261.2 L369.5,261.2 L369.7,260.5 L369.9,260.7 L370.1,260.4 L370.3,261.2 L370.5,260.7 L370.7,259.9 L370.9,260.3 L371.1,260.8 L371.3,260.6 L371.5,260.8 L371.7,260.8 L371.9,260.2 L372.1,259.3 L372.3,259.2 L372.5,259.8 L372.7,258.0 L372.9,254.7 L373.1,251.4 L373.3,251.1 L373.5,249.6 L373.7,249.5 L373.9,248.4 L374.1,247.7 L374.3,250.9 L374.5,249.3 L374.7,250.6 L374.9,250.2 L375.1,249.8 L375.3,249.9 L375.5,249.2 L375.7,247.5 L376.0,247.3 L376.2,247.4 L376.4,247.8 L376.6,247.3 L376.8,246.0 L377.0,246.5 L377.2,246.0 L377.4,245.6 L377.6,245.9 L377.8,245.9 L378.0,246.1 L378.2,247.1 L378.4,248.1 L378.6,248.6 L378.8,248.3 L379.0,249.8 L379.2,248.7 L379.4,249.2 L379.6,248.5 L379.8,248.2 L380.0,248.0 L380.2,247.9 L380.4,247.3 L380.6,251.8 L380.8,255.4 L381.0,255.5 L381.2,255.4 L381.4,256.3 L381.6,255.1 L381.8,255.9 L382.0,255.1 L382.2,255.5 L382.4,253.6 L382.6,253.4 L382.8,254.4 L383.0,251.9 L383.2,252.4 L383.4,251.6 L383.6,250.7 L383.8,252.1 L384.0,251.2 L384.2,251.9 L384.4,252.9 L384.6,254.0 L384.8,255.1 L385.0,254.8 L385.2,254.1 L385.4,255.2 L385.6,254.9 L385.8,254.7 L386.0,254.1 L386.2,253.9 L386.4,253.3 L386.6,252.9 L386.8,252.8 L387.0,252.7 L387.2,252.9 L387.4,252.5 L387.6,251.6 L387.8,251.9 L388.0,250.8 L388.2,250.4 L388.4,249.9 L388.6,249.1 L388.8,248.4 L389.0,249.7 L389.2,249.3 L389.4,249.8 L389.6,247.9 L389.8,247.4 L390.0,245.6 L390.2,245.3 L390.4,243.5 L390.6,242.4 L390.8,242.2 L391.0,242.6 L391.2,240.9 L391.4,241.1 L391.6,240.1 L391.8,239.3 L392.0,240.2 L392.2,239.7 L392.4,239.5 L392.6,239.2 L392.8,239.3 L393.1,239.0 L393.3,235.9 L393.5,233.1 L393.7,233.3 L393.9,232.6 L394.1,232.9 L394.3,232.8 L394.5,234.3 L394.7,232.8 L394.9,231.1 L395.1,230.6 L395.3,230.6 L395.5,228.5 L395.7,227.3 L395.9,226.5 L396.1,225.0 L396.3,225.2 L396.5,223.7 L396.7,222.6 L396.9,223.2 L397.1,221.5 L397.3,222.5 L397.5,225.4 L397.7,228.3 L397.9,226.9 L398.1,226.5 L398.3,225.9 L398.5,223.7 L398.7,223.3 L398.9,222.6 L399.1,222.1 L399.3,222.2 L399.5,222.5 L399.7,223.3 L399.9,224.3 L400.1,224.3 L400.3,224.8 L400.5,225.4 L400.7,225.4 L400.9,223.4 L401.1,221.8 L401.3,220.4 L401.5,218.4 L401.7,216.8 L401.9,213.2 L402.1,213.3 L402.3,213.2 L402.5,212.9 L402.7,213.3 L402.9,211.6 L403.1,211.1 L403.3,210.3 L403.5,207.5 L403.7,206.9 L403.9,205.7 L404.1,203.5 L404.3,203.3 L404.5,200.8 L404.7,199.1 L404.9,197.1 L405.1,195.3 L405.3,195.9 L405.5,195.4 L405.7,192.6 L405.9,188.8 L406.1,185.4 L406.3,182.8 L406.5,184.4 L406.7,188.1 L406.9,190.0 L407.1,189.0 L407.3,186.3 L407.5,184.8 L407.7,185.2 L407.9,186.5 L408.1,188.2 L408.3,188.4 L408.6,191.0 L408.8,194.0 L409.0,197.4 L409.2,196.5 L409.4,196.5 L409.6,195.4 L409.8,195.0 L410.0,196.3 L410.2,198.1 L410.4,195.2 L410.6,191.8 L410.8,192.3 L411.0,190.7 L411.2,190.2 L411.4,190.0 L411.6,187.7 L411.8,184.9 L412.0,183.4 L412.2,180.8 L412.4,178.7 L412.6,176.2 L412.8,175.6 L413.0,174.7 L413.2,175.3 L413.4,174.9 L413.6,173.3 L413.8,173.1 L414.0,173.0 L414.2,172.9 L414.4,171.0 L414.6,168.7 L414.8,168.1 L415.0,166.4 L415.2,164.7 L415.4,169.3 L415.6,173.2 L415.8,173.8 L416.0,174.2 L416.2,175.5 L416.4,176.4 L416.6,177.5 L416.8,175.6 L417.0,173.4 L417.2,171.5 L417.4,171.6 L417.6,169.6 L417.8,169.6 L418.0,169.3 L418.2,168.4 L418.4,167.2 L418.6,166.2 L418.8,163.9 L419.0,162.4 L419.2,161.5 L419.4,163.5 L419.6,163.6 L419.8,165.4 L420.0,164.6 L420.3,165.0 L420.5,165.1 L420.7,164.0 L420.9,165.7 L421.1,166.9 L421.3,167.6 L421.5,169.2 L421.7,170.3 L421.9,169.9 L422.1,167.3 L422.3,166.9 L422.5,164.6 L422.7,163.8 L422.9,164.6 L423.1,164.1 L423.3,163.4 L423.5,164.4 L423.7,164.8 L423.9,164.3 L424.1,165.1 L424.3,166.1 L424.5,164.7 L424.7,163.7 L424.9,162.7 L425.1,162.4 L425.3,160.8 L425.5,159.5 L425.7,160.4 L425.9,161.2 L426.1,161.0 L426.3,161.9 L426.5,165.9 L426.7,167.4 L426.9,168.5 L427.1,169.8 L427.3,170.3 L427.5,172.3 L427.7,171.9 L427.9,173.1 L428.1,170.7 L428.3,169.6 L428.5,168.5 L428.7,167.7 L428.9,164.5 L429.1,164.6 L429.3,164.2 L429.5,165.0 L429.7,164.8 L429.9,164.8 L430.1,163.9 L430.3,163.2 L430.5,163.6 L430.7,165.2 L430.9,168.3 L431.1,169.8 L431.3,172.6 L431.5,173.2 L431.7,175.3 L432.0,175.5 L432.2,177.6 L432.4,179.4 L432.6,184.1 L432.8,187.8 L433.0,183.0 L433.2,185.8 L433.4,188.2 L433.6,191.2 L433.8,189.6 L434.0,188.0 L434.2,184.8 L434.4,186.3 L434.6,189.0 L434.8,191.3 L435.0,189.3 L435.2,189.4 L435.4,186.9 L435.6,185.0 L435.8,184.8 L436.0,185.4 L436.2,188.3 L436.4,189.7 L436.6,191.6 L436.8,193.2 L437.0,191.0 L437.2,189.3 L437.4,188.1 L437.6,187.2 L437.8,184.4 L438.0,183.1 L438.2,185.0 L438.4,186.0 L438.6,187.8 L438.8,189.6 L439.0,190.0 L439.2,191.5 L439.4,193.6 L439.6,194.6 L439.8,194.9 L440.0,194.7 L440.2,196.1 L440.4,194.7 L440.6,192.5 L440.8,190.5 L441.0,189.4 L441.2,189.3 L441.4,190.2 L441.6,191.8 L441.8,192.3 L442.0,192.0 L442.2,192.7 L442.4,192.7 L442.6,191.7 L442.8,193.6 L443.0,192.7 L443.2,193.0 L443.4,194.4 L443.7,193.7 L443.9,194.8 L444.1,195.0 L444.3,196.0 L444.5,196.5 L444.7,196.9 L444.9,198.2 L445.1,198.2 L445.3,199.2 L445.5,197.4 L445.7,195.3 L445.9,192.9 L446.1,190.8 L446.3,189.5 L446.5,187.4 L446.7,186.1 L446.9,184.3 L447.1,184.0 L447.3,183.0 L447.5,181.8 L447.7,182.9 L447.9,184.9 L448.1,186.2 L448.3,183.9 L448.5,183.5 L448.7,180.8 L448.9,179.7 L449.1,178.2 L449.3,176.1 L449.5,174.7 L449.7,175.7 L449.9,173.9 L450.1,174.4 L450.3,174.7 L450.5,175.0 L450.7,177.0 L450.9,176.5 L451.1,177.8 L451.3,176.0 L451.5,175.8 L451.7,174.7 L451.9,172.3 L452.1,172.6 L452.3,173.4 L452.5,174.7 L452.7,175.4 L452.9,175.7 L453.1,175.1 L453.3,175.1 L453.5,175.1 L453.7,175.2 L453.9,173.3 L454.1,173.4 L454.3,172.0 L454.5,170.5 L454.7,170.8 L454.9,169.3 L455.1,175.5 L455.4,175.2 L455.6,174.9 L455.8,176.8 L456.0,176.8 L456.2,176.4 L456.4,176.5 L456.6,176.5 L456.8,174.9 L457.0,175.7 L457.2,174.0 L457.4,173.9 L457.6,176.1 L457.8,180.7 L458.0,182.8 L458.2,182.1 L458.4,182.1 L458.6,180.2 L458.8,180.1 L459.0,181.2 L459.2,181.3 L459.4,181.5 L459.6,181.8 L459.8,177.8 L460.0,174.1 L460.2,172.8 L460.4,171.2 L460.6,170.0 L460.8,168.2 L461.0,166.8 L461.2,167.0 L461.4,165.9 L461.6,166.6 L461.8,165.4 L462.0,164.7 L462.2,162.8 L462.4,162.9 L462.6,162.7 L462.8,161.2 L463.0,160.3 L463.2,160.2 L463.4,159.8 L463.6,158.6 L463.8,157.5 L464.0,158.4 L464.2,159.9 L464.4,161.4 L464.6,162.0 L464.8,163.1 L465.0,163.8 L465.2,163.8 L465.4,162.7 L465.6,162.8 L465.8,163.0 L466.0,163.2 L466.2,161.6 L466.4,162.2 L466.6,160.1 L466.8,161.3 L467.1,160.7 L467.3,158.8 L467.5,157.5 L467.7,156.3 L467.9,157.1 L468.1,157.8 L468.3,159.0 L468.5,159.0 L468.7,160.4 L468.9,159.8 L469.1,161.9 L469.3,162.4 L469.5,163.5 L469.7,165.3 L469.9,166.3 L470.1,165.7 L470.3,165.6 L470.5,165.8 L470.7,165.9 L470.9,167.7 L471.1,167.4 L471.3,168.3 L471.5,166.8 L471.7,166.1 L471.9,164.5 L472.1,165.2 L472.3,166.9 L472.5,167.8 L472.7,168.4 L472.9,172.9 L473.1,173.3 L473.3,174.6 L473.5,174.0 L473.7,174.7 L473.9,174.6 L474.1,175.4 L474.3,175.3 L474.5,175.1 L474.7,175.6 L474.9,175.9 L475.1,175.4 L475.3,176.5 L475.5,176.2 L475.7,175.8 L475.9,174.0 L476.1,173.6 L476.3,172.5 L476.5,172.4 L476.7,171.2 L476.9,171.0 L477.1,171.2 L477.3,171.1 L477.5,171.3 L477.7,172.5 L477.9,173.3 L478.1,175.1 L478.3,176.1 L478.5,177.1 L478.8,177.9 L479.0,177.6 L479.2,179.0 L479.4,179.4 L479.6,180.8 L479.8,181.8 L480.0,181.6 L480.2,180.8 L480.4,180.5 L480.6,179.6 L480.8,178.9 L481.0,179.5 L481.2,179.9 L481.4,180.5 L481.6,180.5 L481.8,180.9 L482.0,183.0 L482.2,184.7 L482.4,186.6 L482.6,188.5 L482.8,190.7 L483.0,189.4 L483.2,188.3 L483.4,188.7 L483.6,187.7 L483.8,187.5 L484.0,186.5 L484.2,187.0 L484.4,186.4 L484.6,185.8 L484.8,184.9 L485.0,183.9 L485.2,182.4 L485.4,181.8 L485.6,181.0 L485.8,179.6 L486.0,179.0 L486.2,179.6 L486.4,179.9 L486.6,179.4 L486.8,178.7 L487.0,178.7 L487.2,178.5 L487.4,178.4 L487.6,178.2 L487.8,179.5 L488.0,181.7 L488.2,182.4 L488.4,184.5 L488.6,185.9 L488.8,185.6 L489.0,185.9 L489.2,186.7 L489.4,186.0 L489.6,184.9 L489.8,182.5 L490.0,181.3 L490.3,179.7 L490.5,178.3 L490.7,179.8 L490.9,180.9 L491.1,182.5 L491.3,183.9 L491.5,185.0 L491.7,186.4 L491.9,183.8 L492.1,181.2 L492.3,182.0 L492.5,183.9 L492.7,184.6 L492.9,186.7 L493.1,185.0 L493.3,184.0 L493.5,183.2 L493.7,182.4 L493.9,181.4 L494.1,181.1 L494.3,180.9 L494.5,180.9 L494.7,180.4 L494.9,180.1 L495.1,179.3 L495.3,177.5 L495.5,176.9 L495.7,176.3 L495.9,175.2 L496.1,176.0 L496.3,175.4 L496.5,175.6 L496.7,175.9 L496.9,176.0 L497.1,176.5 L497.3,175.7 L497.5,176.7 L497.7,178.2 L497.9,179.4 L498.1,179.7 L498.3,181.9 L498.5,183.2 L498.7,184.4 L498.9,183.5 L499.1,183.7 L499.3,183.4 L499.5,183.1 L499.7,183.1 L499.9,183.1 L500.1,182.7 L500.3,182.3 L500.5,182.6 L500.7,183.1 L500.9,183.1 L501.1,184.5 L501.3,185.0 L501.5,186.0 L501.7,186.3 L502.0,186.1 L502.2,187.1 L502.4,186.5 L502.6,186.9 L502.8,185.8 L503.0,185.0 L503.2,185.2 L503.4,184.1 L503.6,186.4 L503.8,189.3 L504.0,192.5 L504.2,195.6 L504.4,198.3 L504.6,199.6 L504.8,199.4 L505.0,200.6 L505.2,198.7 L505.4,198.2 L505.6,196.6 L505.8,197.6 L506.0,198.2 L506.2,197.9 L506.4,199.1 L506.6,200.2 L506.8,200.6 L507.0,201.2 L507.2,201.0 L507.4,200.4 L507.6,200.3 L507.8,201.3 L508.0,201.3 L508.2,200.2 L508.4,198.7 L508.6,197.9 L508.8,195.8 L509.0,196.6 L509.2,198.6 L509.4,199.4 L509.6,198.4 L509.8,198.8 L510.0,198.0 L510.2,196.9 L510.4,198.0 L510.6,199.6 L510.8,200.2 L511.0,201.7 L511.2,207.8 L511.4,213.9 L511.6,216.1 L511.8,217.2 L512.0,218.9 L512.2,221.7 L512.4,222.8 L512.6,220.6 L512.8,219.6 L513.0,218.3 L513.2,217.5 L513.4,218.0 L513.7,217.0 L513.9,216.3 L514.1,217.2 L514.3,217.5 L514.5,219.3 L514.7,219.8 L514.9,220.3 L515.1,221.9 L515.3,221.7 L515.5,220.1 L515.7,218.9 L515.9,218.6 L516.1,217.2 L516.3,216.0 L516.5,216.4 L516.7,216.6 L516.9,217.6 L517.1,218.5 L517.3,219.4 L517.5,219.6 L517.7,218.8 L517.9,217.6 L518.1,216.2 L518.3,215.2 L518.5,214.1 L518.7,212.8 L518.9,212.3 L519.1,213.0 L519.3,214.3 L519.5,214.1 L519.7,215.1 L519.9,216.2 L520.1,217.0 L520.3,215.3 L520.5,213.7 L520.7,211.0 L520.9,211.8 L521.1,211.5 L521.3,212.6 L521.5,213.2 L521.7,213.1 L521.9,213.7 L522.1,212.9 L522.3,212.1 L522.5,211.4 L522.7,211.0 L522.9,210.2 L523.1,210.7 L523.3,209.8 L523.5,210.3 L523.7,209.7 L523.9,210.0 L524.1,210.8 L524.3,211.4 L524.5,212.1 L524.7,214.7 L524.9,217.8 L525.1,217.5 L525.4,216.8 L525.6,216.6 L525.8,216.6 L526.0,216.5 L526.2,216.0 L526.4,218.0 L526.6,219.6 L526.8,221.1 L527.0,221.0 L527.2,220.8 L527.4,219.5 L527.6,220.2 L527.8,220.2 L528.0,220.7 L528.2,222.1 L528.4,222.8 L528.6,223.3 L528.8,221.2 L529.0,218.7 L529.2,216.5 L529.4,216.1 L529.6,214.3 L529.8,214.1 L530.0,219.6 L530.2,220.1 L530.4,219.8 L530.6,221.3 L530.8,220.8 L531.0,221.0 L531.2,221.4 L531.4,222.7 L531.6,224.0 L531.8,223.5 L532.0,223.4 L532.2,223.2 L532.4,223.7 L532.6,223.0 L532.8,222.5 L533.0,223.1 L533.2,221.7 L533.4,221.7 L533.6,221.0 L533.8,220.6 L534.0,220.2 L534.2,219.3 L534.4,219.8 L534.6,219.1 L534.8,219.5 L535.0,220.4 L535.2,220.1 L535.4,221.5 L535.6,221.9 L535.8,221.6 L536.0,221.7 L536.2,222.1 L536.4,222.1 L536.6,222.0 L536.8,221.1 L537.1,222.6 L537.3,222.5 L537.5,222.6 L537.7,221.8 L537.9,221.1 L538.1,220.0 L538.3,218.9 L538.5,219.2 L538.7,218.0 L538.9,218.0 L539.1,218.1 L539.3,218.0 L539.5,217.7 L539.7,218.2 L539.9,218.1 L540.1,218.2 L540.3,216.9 L540.5,216.9 L540.7,216.8 L540.9,219.2 L541.1,222.6 L541.3,224.2 L541.5,232.1 L541.7,226.8 L541.9,227.7 L542.1,228.6 L542.3,229.6 L542.5,229.8 L542.7,230.5 L542.9,230.3 L543.1,230.7 L543.3,231.3 L543.5,231.5 L543.7,232.3 L543.9,232.4 L544.1,231.8 L544.3,231.3 L544.5,230.5 L544.7,230.2 L544.9,229.7 L545.1,229.3 L545.3,228.9 L545.5,228.7 L545.7,228.0 L545.9,227.3 L546.1,228.0 L546.3,228.2 L546.5,227.6 L546.7,228.6 L546.9,227.8 L547.1,228.6 L547.3,227.5 L547.5,227.2 L547.7,226.6 L547.9,226.5 L548.1,226.4 L548.3,226.9 L548.5,226.2 L548.8,228.1 L549.0,229.7 L549.2,229.8 L549.4,230.0 L549.6,230.5 L549.8,230.6 L550.0,230.1 L550.2,229.9 L550.4,229.5 L550.6,229.2 L550.8,229.1 L551.0,229.3 L551.2,229.9 L551.4,229.1 L551.6,229.2 L551.8,230.0 L552.0,230.2 L552.2,229.5 L552.4,229.5 L552.6,229.2 L552.8,229.0 L553.0,229.3 L553.2,228.5 L553.4,228.1 L553.6,228.3 L553.8,227.8 L554.0,226.0 L554.2,225.9 L554.4,222.3 L554.6,219.6 L554.8,217.5 L555.0,217.0 L555.2,217.6 L555.4,218.2 L555.6,218.3 L555.8,216.8 L556.0,215.2 L556.2,213.2 L556.4,213.0 L556.6,212.9 L556.8,212.4 L557.0,212.5 L557.2,212.9 L557.4,211.0 L557.6,210.7 L557.8,211.2 L558.0,211.3 L558.2,211.2 L558.4,211.3 L558.6,211.6 L558.8,211.9 L559.0,212.5 L559.2,212.9 L559.4,213.6 L559.6,214.5 L559.8,214.8 L560.0,215.6 L560.2,215.6 L560.5,215.4 L560.7,215.9 L560.9,215.6 L561.1,213.4 L561.3,211.3 L561.5,209.2 L561.7,208.9 L561.9,209.3 L562.1,208.7 L562.3,208.7 L562.5,209.2 L562.7,210.3 L562.9,211.5 L563.1,212.3 L563.3,212.5 L563.5,212.5 L563.7,212.2 L563.9,212.5 L564.1,212.5 L564.3,213.7 L564.5,214.3 L564.7,214.8 L564.9,214.7 L565.1,215.1 L565.3,215.8 L565.5,215.8 L565.7,217.9 L565.9,219.6 L566.1,216.4 L566.3,213.0 L566.5,210.1 L566.7,209.0 L566.9,207.6 L567.1,205.8 L567.3,203.6 L567.5,202.9 L567.7,202.4 L567.9,203.3 L568.1,203.3 L568.3,203.8 L568.5,203.7 L568.7,204.0 L568.9,204.4 L569.1,204.1 L569.3,204.2 L569.5,203.7 L569.7,202.9 L569.9,202.4 L570.1,202.7 L570.3,201.9 L570.5,202.9 L570.7,202.3 L570.9,202.1 L571.1,202.1 L571.3,201.2 L571.5,201.2 L571.7,200.3 L571.9,200.2 L572.2,199.4 L572.4,198.7 L572.6,197.9 L572.8,198.1 L573.0,198.7 L573.2,198.8 L573.4,199.7 L573.6,199.8 L573.8,200.2 L574.0,200.8 L574.2,202.0 L574.4,202.3 L574.6,203.1 L574.8,202.9 L575.0,203.4 L575.2,202.3 L575.4,201.7 L575.6,200.8 L575.8,200.3 L576.0,200.1 L576.2,201.6 L576.4,202.3 L576.6,201.9 L576.8,200.5 L577.0,200.8 L577.2,199.7 L577.4,200.4 L577.6,201.2 L577.8,203.0 L578.0,203.2 L578.2,203.5 L578.4,204.4 L578.6,204.7 L578.8,205.0 L579.0,204.3 L579.2,204.1 L579.4,203.8 L579.6,203.6 L579.8,203.6 L580.0,204.2 L580.2,204.4 L580.4,204.6 L580.6,205.0 L580.8,204.7 L581.0,205.6 L581.2,204.7 L581.4,204.0 L581.6,203.3 L581.8,202.4 L582.0,203.2 L582.2,203.1 L582.4,204.1 L582.6,204.7 L582.8,205.7 L583.0,206.0 L583.2,206.4 L583.4,206.9 L583.6,207.0 L583.9,206.4 L584.1,207.2 L584.3,206.5 L584.5,206.6 L584.7,207.0 L584.9,207.8 L585.1,207.8 L585.3,208.2 L585.5,207.3 L585.7,206.1 L585.9,205.3 L586.1,203.9 L586.3,202.0 L586.5,201.1 L586.7,198.8 L586.9,198.5 L587.1,197.6 L587.3,197.5 L587.5,197.6 L587.7,198.2 L587.9,198.7 L588.1,198.6 L588.3,197.9 L588.5,198.7 L588.7,197.9 L588.9,197.0 L589.1,196.9 L589.3,197.0 L589.5,198.0 L589.7,198.6 L589.9,198.2 L590.1,197.4 L590.3,197.6 L590.5,197.7 L590.7,197.0 L590.9,196.4 L591.1,196.4 L591.3,197.9 L591.5,197.1 L591.7,197.8 L591.9,198.6 L592.1,199.6 L592.3,198.8 L592.5,199.9 L592.7,199.1 L592.9,199.6 L593.1,199.2 L593.3,200.2 L593.5,200.5 L593.7,200.2 L593.9,199.8 L594.1,200.4 L594.3,200.4 L594.5,200.3 L594.7,200.2 L594.9,200.1 L595.1,200.3 L595.3,199.6 L595.6,199.5 L595.8,199.5 L596.0,198.8 L596.2,199.4 L596.4,199.2 L596.6,198.9 L596.8,199.7 L597.0,199.4 L597.2,199.9 L597.4,200.9 L597.6,200.4 L597.8,200.9 L598.0,201.1 L598.2,205.1 L598.4,205.5 L598.6,205.8 L598.8,206.0 L599.0,206.3 L599.2,206.3 L599.4,206.7 L599.6,205.6 L599.8,205.1 L600.0,204.6 L600.2,204.3 L600.4,203.5 L600.6,203.0 L600.8,204.0 L601.0,205.6 L601.2,206.7 L601.4,206.9 L601.6,206.3 L601.8,206.4 L602.0,206.5 L602.2,206.8 L602.4,206.7 L602.6,207.5 L602.8,207.7 L603.0,207.5 L603.2,208.2 L603.4,207.6 L603.6,206.7 L603.8,205.7 L604.0,205.1 L604.2,204.7 L604.4,204.6 L604.6,203.9 L604.8,204.0 L605.0,204.4 L605.2,204.4 L605.4,204.7 L605.6,205.2 L605.8,205.8 L606.0,205.3 L606.2,205.8 L606.4,205.6 L606.6,205.1 L606.8,204.4 L607.0,204.3 L607.3,203.5 L607.5,203.4 L607.7,203.6 L607.9,202.8 L608.1,203.1 L608.3,202.5 L608.5,203.2 L608.7,203.5 L608.9,203.6 L609.1,204.2 L609.3,204.7 L609.5,204.4 L609.7,204.6 L609.9,204.0 L610.1,202.2 L610.3,201.5 L610.5,200.6 L610.7,200.4 L610.9,199.7 L611.1,199.4 L611.3,197.7 L611.5,196.1 L611.7,193.8 L611.9,192.4 L612.1,192.5 L612.3,192.5 L612.5,191.1 L612.7,192.1 L612.9,191.8 L613.1,190.5 L613.3,190.6 L613.5,190.1 L613.7,190.2 L613.9,190.2 L614.1,190.9 L614.3,190.7 L614.5,189.8 L614.7,189.4 L614.9,189.4 L615.1,188.3 L615.3,187.9 L615.5,187.7 L615.7,187.8 L615.9,188.7 L616.1,189.9 L616.3,186.6 L616.5,187.1 L616.7,188.4 L616.9,188.8 L617.1,188.8 L617.3,189.0 L617.5,189.6 L617.7,189.0 L617.9,187.3 L618.1,186.9 L618.3,187.3 L618.5,187.3 L618.7,186.6 L619.0,186.7 L619.2,186.7 L619.4,185.9 L619.6,185.5 L619.8,184.4 L620.0,182.0 L620.2,180.8 L620.4,178.6 L620.6,178.5 L620.8,179.1 L621.0,178.5 L621.2,179.6 L621.4,181.1 L621.6,182.2 L621.8,182.0 L622.0,181.8 L622.2,181.5 L622.4,181.3 L622.6,181.4 L622.8,181.4 L623.0,180.0 L623.2,179.9 L623.4,179.1 L623.6,179.5 L623.8,179.4 L624.0,180.6 L624.2,180.4 L624.4,180.6 L624.6,180.6 L624.8,181.0 L625.0,180.5 L625.2,180.8 L625.4,181.1 L625.6,180.8 L625.8,179.5 L626.0,177.7 L626.2,180.2 L626.4,178.9 L626.6,178.5 L626.8,177.1 L627.0,176.2 L627.2,175.4 L627.4,176.3 L627.6,176.2 L627.8,176.0 L628.0,180.2 L628.2,180.5 L628.4,180.7 L628.6,180.9 L628.8,181.2 L629.0,181.4 L629.2,182.1 L629.4,182.8 L629.6,183.3 L629.8,183.5 L630.0,184.4 L630.2,183.8 L630.4,182.5 L630.6,182.8 L630.8,181.4 L631.0,180.8 L631.2,180.8 L631.4,181.0 L631.6,180.0 L631.8,179.7 L632.0,180.0 L632.2,180.2 L632.4,180.7 L632.6,180.4 L632.9,179.8 L633.1,178.3 L633.3,178.3 L633.5,177.2 L633.7,176.7 L633.9,174.5 L634.1,173.8 L634.3,172.8 L634.5,171.3 L634.7,170.2 L634.9,170.3 L635.1,170.4 L635.3,170.3 L635.5,169.5 L635.7,170.3 L635.9,169.7 L636.1,169.1 L636.3,170.1 L636.5,170.5 L636.7,169.9 L636.9,170.3 L637.1,167.5 L637.3,163.8 L637.5,160.4 L637.7,160.7 L637.9,160.4 L638.1,158.6 L638.3,158.0 L638.5,155.7 L638.7,159.3 L638.9,158.4 L639.1,156.5 L639.3,155.7 L639.5,155.1 L639.7,154.8 L639.9,153.4 L640.1,152.5 L640.3,152.1 L640.5,154.1 L640.7,156.8 L640.9,158.1 L641.1,159.1 L641.3,159.8 L641.5,160.9 L641.7,160.1 L641.9,159.1 L642.1,159.3 L642.3,157.8 L642.5,156.3 L642.7,154.5 L642.9,154.7 L643.1,154.8 L643.3,154.3 L643.5,155.1 L643.7,154.2 L643.9,155.7 L644.1,154.6 L644.3,157.9 L644.5,157.0 L644.7,156.9 L644.9,156.1 L645.1,155.0 L645.3,153.9 L645.5,153.2 L645.7,154.5 L645.9,154.9 L646.1,155.6 L646.3,156.6 L646.5,159.1 L646.7,159.5 L646.9,160.6 L647.1,161.2 L647.3,161.4 L647.5,161.1 L647.7,158.4 L647.9,158.4 L648.1,157.7 L648.3,156.9 L648.5,157.6 L648.7,158.6 L648.9,158.3 L649.1,159.3 L649.3,160.4 L649.5,160.6 L649.7,161.8 L650.0,163.1 L650.2,164.0 L650.4,161.8 L650.6,160.0 L650.8,160.3 L651.0,160.0 L651.2,159.8 L651.4,160.5 L651.6,161.3 L651.8,161.3 L652.0,161.8 L652.2,161.7 L652.4,160.9 L652.6,162.5 L652.8,161.1 L653.0,157.3 L653.2,156.8 L653.4,156.1 L653.6,155.1 L653.8,154.0 L654.0,153.4 L654.2,154.1 L654.4,155.1 L654.6,156.0 L654.8,155.9 L655.0,155.3 L655.2,155.0 L655.4,154.9 L655.6,155.9 L655.8,155.7 L656.0,156.5 L656.2,156.3 L656.4,156.2 L656.6,155.2 L656.8,154.7 L657.0,154.1 L657.2,153.6 L657.4,154.5 L657.6,154.9 L657.8,155.4 L658.0,156.0 L658.2,156.0 L658.4,156.5 L658.6,156.6 L658.8,156.5 L659.0,157.5 L659.2,157.2 L659.4,158.2 L659.6,158.2 L659.8,158.2 L660.0,159.2 L660.2,159.4 L660.4,159.5 L660.6,160.6 L660.8,162.4 L661.0,162.2 L661.2,162.7 L661.4,162.7 L661.6,162.0 L661.8,162.2 L662.0,161.5 L662.2,160.7 L662.4,160.0 L662.6,160.7 L662.8,163.0 L663.0,164.4 L663.2,165.5 L663.4,164.7 L663.6,165.3 L663.8,165.5 L664.0,165.5 L664.2,165.7 L664.4,165.2 L664.6,164.4 L664.8,163.3 L665.0,160.4 L665.2,158.5 L665.4,158.0 L665.6,157.2 L665.8,157.2 L666.0,156.9 L666.2,156.5 L666.4,155.8 L666.6,155.6 L666.8,157.4 L667.1,157.1 L667.3,157.7 L667.5,156.8 L667.7,156.0 L667.9,156.3 L668.1,156.9 L668.3,158.1 L668.5,158.9 L668.7,159.9 L668.9,161.3 L669.1,163.6 L669.3,165.9 L669.5,168.0 L669.7,165.8 L669.9,163.7 L670.1,161.0 L670.3,162.0 L670.5,162.9 L670.7,163.6 L670.9,163.8 L671.1,163.7 L671.3,163.9 L671.5,164.6 L671.7,164.5 L671.9,163.9 L672.1,163.8 L672.3,163.4 L672.5,163.4 L672.7,161.9 L672.9,160.4 L673.1,159.0 L673.3,159.1 L673.5,158.9 L673.7,160.7 L673.9,161.6 L674.1,163.4 L674.3,162.9 L674.5,163.1 L674.7,163.2 L674.9,163.2 L675.1,163.3 L675.3,164.7 L675.5,166.4 L675.7,166.7 L675.9,168.1 L676.1,167.1 L676.3,166.4 L676.5,165.2 L676.7,164.8 L676.9,163.2 L677.1,163.5 L677.3,162.1 L677.5,162.1 L677.7,163.2 L677.9,164.1 L678.1,161.9 L678.3,161.6 L678.5,160.0 L678.7,159.9 L678.9,160.0 L679.1,159.7 L679.3,159.7 L679.5,159.3 L679.7,159.0 L679.9,157.8 L680.1,157.7 L680.3,158.6 L680.5,159.2 L680.7,159.7 L680.9,160.7 L681.1,162.0 L681.3,161.6 L681.5,161.1 L681.7,160.5 L681.9,160.1 L682.1,160.7 L682.3,161.4 L682.5,161.7 L682.7,162.2 L682.9,161.1 L683.1,159.5 L683.3,158.9 L683.5,157.5 L683.7,156.9 L683.9,156.9 L684.2,156.4 L684.4,156.0 L684.6,155.5 L684.8,155.2 L685.0,155.7 L685.2,156.1 L685.4,157.2 L685.6,156.5 L685.8,155.3 L686.0,154.6 L686.2,153.8 L686.4,153.4 L686.6,152.4 L686.8,152.8 L687.0,153.6 L687.2,154.1 L687.4,154.9 L687.6,155.4 L687.8,155.0 L688.0,154.9 L688.2,150.4 L688.4,149.9 L688.6,149.6 L688.8,149.6 L689.0,145.8 L689.2,142.0 L689.4,141.3 L689.6,141.0 L689.8,140.6 L690.0,140.7 L690.2,141.1 L690.4,141.4 L690.6,140.0 L690.8,139.6 L691.0,138.2 L691.2,137.2 L691.4,136.3 L691.6,136.9 L691.8,138.1 L692.0,139.3 L692.2,140.2 L692.4,139.3 L692.6,138.4 L692.8,137.1 L693.0,136.8 L693.2,136.9 L693.4,136.8 L693.6,136.4 L693.8,136.4 L694.0,137.3 L694.2,137.4 L694.4,137.3 L694.6,137.3 L694.8,137.2 L695.0,136.3 L695.2,135.9 L695.4,135.7 L695.6,135.1 L695.8,134.8 L696.0,133.8 L696.2,133.2 L696.4,132.6 L696.6,134.8 L696.8,137.1 L697.0,137.3 L697.2,137.9 L697.4,138.0 L697.6,138.6 L697.8,137.2 L698.0,136.0 L698.2,138.0 L698.4,138.4 L698.6,139.0 L698.8,139.4 L699.0,139.8 L699.2,138.8 L699.4,138.4 L699.6,137.4 L699.8,136.7 L700.0,136.1 L700.2,135.6 L700.4,134.6 L700.7,136.2 L700.9,138.1 L701.1,139.8 L701.3,139.5 L701.5,139.1 L701.7,139.3 L701.9,138.7 L702.1,137.4 L702.3,136.0 L702.5,134.6 L702.7,133.5 L702.9,133.5 L703.1,132.9 L703.3,132.8 L703.5,132.6 L703.7,132.6 L703.9,132.8 L704.1,133.3 L704.3,133.6 L704.5,133.8 L704.7,134.7 L704.9,134.2 L705.1,133.9 L705.3,133.3 L705.5,134.6 L705.7,135.9 L705.9,136.9 L706.1,136.9 L706.3,136.9 L706.5,137.4 L706.7,137.2 L706.9,137.2 L707.1,137.2 L707.3,137.6 L707.5,137.6 L707.7,137.1 L707.9,137.4 L708.1,137.2 L708.3,137.1 L708.5,137.7 L708.7,137.7 L708.9,138.0 L709.1,138.1 L709.3,137.7 L709.5,137.8 L709.7,137.8 L709.9,139.1 L710.1,139.8 L710.3,140.9 L710.5,142.0 L710.7,142.9 L710.9,143.8 L711.1,144.7 L711.3,141.8 L711.5,138.9 L711.7,141.0 L711.9,142.9 L712.1,142.3 L712.4,141.2 L712.6,143.0 L712.8,144.5 L713.0,146.3 L713.2,148.3 L713.4,147.5 L713.6,146.8 L713.8,145.8 L714.0,144.9 L714.2,145.2 L714.4,145.7 L714.6,144.8 L714.8,144.1 L715.0,143.1 L715.2,143.0 L715.4,143.0 L715.6,142.8 L715.8,142.9 L716.0,142.7 L716.2,143.5 L716.4,143.7 L716.6,144.0 L716.8,144.6 L717.0,145.2 L717.2,145.4 L717.4,145.8 L717.6,145.7 L717.8,145.8 L718.0,146.6 L718.2,147.3 L718.4,147.4 L718.6,148.5 L718.8,149.1 L719.0,149.9 L719.2,145.7 L719.4,145.0 L719.6,144.8 L719.8,144.1 L720.0,143.9 L720.2,144.8 L720.4,144.8 L720.6,144.9 L720.8,144.5 L721.0,144.2 L721.2,144.5 L721.4,144.1 L721.6,141.8 L721.8,139.3 L722.0,139.0 L722.2,139.2 L722.4,138.6 L722.6,138.4 L722.8,138.4 L723.0,138.4 L723.2,138.2 L723.4,137.8 L723.6,137.6 L723.8,137.7 L724.1,138.0 L724.3,138.2 L724.5,138.6 L724.7,136.8 L724.9,135.7 L725.1,134.1 L725.3,134.1 L725.5,134.3 L725.7,134.0 L725.9,134.3 L726.1,134.2 L726.3,133.9 L726.5,133.8 L726.7,133.3 L726.9,132.9 L727.1,132.4 L727.3,131.5 L727.5,131.2 L727.7,130.3 L727.9,129.9 L728.1,130.2 L728.3,130.5 L728.5,131.2 L728.7,131.2 L728.9,131.2 L729.1,131.6 L729.3,132.1 L729.5,133.0 L729.7,133.4 L729.9,133.6 L730.1,134.0 L730.3,134.3 L730.5,134.4 L730.7,134.9 L730.9,134.0 L731.1,133.1 L731.3,132.0 L731.5,130.6 L731.7,131.2 L731.9,131.8 L732.1,132.1 L732.3,132.7 L732.5,132.7 L732.7,132.7 L732.9,133.1 L733.1,133.4 L733.3,133.7 L733.5,134.3 L733.7,134.4 L733.9,134.6 L734.1,135.3 L734.3,133.8 L734.5,132.7 L734.7,133.0 L734.9,132.3 L735.1,132.1 L735.3,132.1 L735.5,132.5 L735.8,132.1 L736.0,131.7 L736.2,131.3 L736.4,131.1 L736.6,131.1 L736.8,131.3 L737.0,131.1 L737.2,131.0 L737.4,130.3 L737.6,130.1 L737.8,128.9 L738.0,127.3 L738.2,126.6 L738.4,126.6 L738.6,126.3 L738.8,127.2 L739.0,127.1 L739.2,127.4 L739.4,127.1 L739.6,127.0 L739.8,126.5 L740.0,126.7 L740.2,126.2 L740.4,126.1 L740.6,127.2 L740.8,127.2 L741.0,127.4 L741.2,127.1 L741.4,127.1 L741.6,127.3 L741.8,127.6 L742.0,128.1 L742.2,128.9 L742.4,129.6 L742.6,129.3 L742.8,129.1 L743.0,128.8 L743.2,128.5 L743.4,128.5 L743.6,127.6 L743.8,127.1 L744.0,127.0 L744.2,126.7 L744.4,125.7 L744.6,124.7 L744.8,126.9 L745.0,127.2 L745.2,127.1 L745.4,127.3 L745.6,128.3 L745.8,129.3 L746.0,128.7 L746.2,127.9 L746.4,127.5 L746.6,128.9 L746.8,129.6 L747.0,130.7 L747.2,131.1 L747.5,131.2 L747.7,131.0 L747.9,131.5 L748.1,131.6 L748.3,131.3 L748.5,131.1 L748.7,131.1 L748.9,130.6 L749.1,130.8 L749.3,130.4 L749.5,130.5 L749.7,129.9 L749.9,129.8 L750.1,129.4 L750.3,128.9 L750.5,128.2 L750.7,127.9 L750.9,128.2 L751.1,128.2 L751.3,128.2 L751.5,127.9 L751.7,127.7 L751.9,127.5 L752.1,128.1 L752.3,128.3 L752.5,128.5 L752.7,129.5 L752.9,130.1 L753.1,130.3 L753.3,131.2 L753.5,131.1 L753.7,129.9 L753.9,129.7 L754.1,129.3 L754.3,128.9 L754.5,127.4 L754.7,125.9 L754.9,125.5 L755.1,125.2 L755.3,124.9 L755.5,124.2 L755.7,124.7 L755.9,124.7 L756.1,125.4 L756.3,129.3 L756.5,128.8 L756.7,128.7 L756.9,128.3 L757.1,129.5 L757.3,130.5 L757.5,131.7 L757.7,132.5 L757.9,131.9 L758.1,131.9 L758.3,131.7 L758.5,131.5 L758.7,131.2 L758.9,130.9 L759.2,130.3 L759.4,129.5 L759.6,129.1 L759.8,128.8 L760.0,129.9 L760.2,130.4 L760.4,131.5 L760.6,132.5 L760.8,132.8 L761.0,133.8 L761.2,134.3 L761.4,134.9 L761.6,134.5 L761.8,134.2 L762.0,134.0 L762.2,133.4 L762.4,133.3 L762.6,132.7 L762.8,133.4 L763.0,134.5 L763.2,135.9" fill="none" stroke="#0a0a0a" stroke-width="1.75" stroke-linejoin="round" stroke-linecap="round"/>
<line x1="181.4" x2="181.4" y1="128.0" y2="413.4" stroke="#f7931a" stroke-width="1.3" stroke-opacity="0.66"/>
<line x1="405.7" x2="405.7" y1="128.0" y2="413.4" stroke="#f7931a" stroke-width="1.2" stroke-opacity="0.58"/>
<line x1="412.6" x2="412.6" y1="128.0" y2="413.4" stroke="#f7931a" stroke-width="1.2" stroke-opacity="0.58"/>
<line x1="415.9" x2="415.9" y1="128.0" y2="413.4" stroke="#f7931a" stroke-width="1.2" stroke-opacity="0.55"/>
<line x1="418" x2="418" y1="128.0" y2="413.4" stroke="#f7931a" stroke-width="1.0" stroke-opacity="0.55"/>
<line x1="418.9" x2="418.9" y1="128.0" y2="413.4" stroke="#d8583a" stroke-width="1.2" stroke-opacity="0.7"/>
<line x1="419.8" x2="419.8" y1="128.0" y2="413.4" stroke="#f7931a" stroke-width="0.8" stroke-opacity="0.4"/>
<line x1="421.9" x2="421.9" y1="128.0" y2="413.4" stroke="#f7931a" stroke-width="1.2" stroke-opacity="0.6"/>
<line x1="468.6" x2="468.6" y1="128.0" y2="413.4" stroke="#f7931a" stroke-width="1.25" stroke-opacity="0.64"/>
<line x1="505.4" x2="505.4" y1="128.0" y2="413.4" stroke="#f7931a" stroke-width="1.25" stroke-opacity="0.62"/>
<line x1="527.9" x2="527.9" y1="128.0" y2="413.4" stroke="#f7931a" stroke-width="2.1" stroke-opacity="0.66"/>
<line x1="544.4" x2="544.4" y1="128.0" y2="413.4" stroke="#f7931a" stroke-width="1.25" stroke-opacity="0.58"/>
<line x1="637.8" x2="637.8" y1="128.0" y2="413.4" stroke="#f7931a" stroke-width="1.1" stroke-opacity="0.56"/>
<line x1="639.8" x2="639.8" y1="128.0" y2="413.4" stroke="#f7931a" stroke-width="1.1" stroke-opacity="0.5"/>
<line x1="642.9" x2="642.9" y1="128.0" y2="413.4" stroke="#f7931a" stroke-width="1.2" stroke-opacity="0.6"/>
<line x1="655.4" x2="655.4" y1="128.0" y2="413.4" stroke="#f7931a" stroke-width="2.2" stroke-opacity="0.5"/>
<line x1="690" x2="690" y1="128.0" y2="413.4" stroke="#f7931a" stroke-width="1.6" stroke-opacity="0.42"/>
<line x1="691.6" x2="691.6" y1="128.0" y2="413.4" stroke="#f7931a" stroke-width="1.8" stroke-opacity="0.66"/>
<line x1="693.1" x2="693.1" y1="128.0" y2="413.4" stroke="#f7931a" stroke-width="1.6" stroke-opacity="0.68"/>
<line x1="694.5" x2="694.5" y1="128.0" y2="413.4" stroke="#f7931a" stroke-width="1.3" stroke-opacity="0.5"/>
<line x1="703.3" x2="703.3" y1="128.0" y2="413.4" stroke="#f7931a" stroke-width="1.8" stroke-opacity="0.66"/>
<line x1="714.4" x2="714.4" y1="128.0" y2="413.4" stroke="#f7931a" stroke-width="4.4" stroke-opacity="0.56"/>
<line x1="714.6" x2="714.6" y1="128.0" y2="413.4" stroke="#f7931a" stroke-width="1.4" stroke-opacity="0.12"/>
<line x1="725.5" x2="725.5" y1="128.0" y2="413.4" stroke="#f7931a" stroke-width="6.8" stroke-opacity="0.37"/>
<line x1="729.5" x2="729.5" y1="128.0" y2="413.4" stroke="#f7931a" stroke-width="1.4" stroke-opacity="0.62"/>
<line x1="738.4" x2="738.4" y1="128.0" y2="413.4" stroke="#f7931a" stroke-width="1.2" stroke-opacity="0.5"/>
<line x1="739.6" x2="739.6" y1="128.0" y2="413.4" stroke="#f7931a" stroke-width="1.2" stroke-opacity="0.2"/>
<line x1="741.1" x2="741.1" y1="128.0" y2="413.4" stroke="#f7931a" stroke-width="1.8" stroke-opacity="0.45"/>
<line x1="742.6" x2="742.6" y1="128.0" y2="413.4" stroke="#f7931a" stroke-width="1.0" stroke-opacity="0.3"/>
<line x1="744.7" x2="744.7" y1="128.0" y2="413.4" stroke="#f7931a" stroke-width="2.7" stroke-opacity="0.74"/>
<line x1="750.9" x2="750.9" y1="128.0" y2="413.4" stroke="#f7931a" stroke-width="3.6" stroke-opacity="0.6"/>
<line x1="756.1" x2="756.1" y1="128.0" y2="413.4" stroke="#f7931a" stroke-width="1.7" stroke-opacity="0.3"/>
<line x1="760.8" x2="760.8" y1="128.0" y2="413.4" stroke="#f7931a" stroke-width="1.4" stroke-opacity="0.45"/>
<line x1="496.5" x2="496.5" y1="128.0" y2="413.4" stroke="#c0392b" stroke-width="1.15" stroke-opacity="0.78"/>
<line x1="655.8" x2="655.8" y1="128.0" y2="413.4" stroke="#c0392b" stroke-width="1.3" stroke-opacity="0.7"/>
<line x1="704.5" x2="704.5" y1="128.0" y2="413.4" stroke="#c0392b" stroke-width="1.0" stroke-opacity="0.75"/>
<line x1="707.9" x2="707.9" y1="128.0" y2="413.4" stroke="#bc4a46" stroke-width="1.4" stroke-opacity="0.8"/>
<line x1="736.7" x2="736.7" y1="128.0" y2="413.4" stroke="#c0392b" stroke-width="2.0" stroke-opacity="0.9"/>
<line x1="761.6" x2="761.6" y1="128.0" y2="413.4" stroke="#c0392b" stroke-width="1.1" stroke-opacity="0.75"/>
<line x1="88.3" x2="763" y1="412.6" y2="412.6" stroke="#f3b27a" stroke-width="0.8"/>
<line x1="88.3" x2="763" y1="413.3" y2="413.3" stroke="#d2665c" stroke-width="1.15"/>
<line x1="85.8" x2="85.8" y1="99.4" y2="413.4" stroke="#f6d3ab" stroke-width="1.8"/>
<line x1="765.6" x2="765.6" y1="99.4" y2="413.4" stroke="#808080" stroke-width="1.3"/>
<line x1="808.3" x2="808.3" y1="99.4" y2="413.4" stroke="#c2363a" stroke-width="1.6"/>
<text x="74.6" y="416.15" text-anchor="end" font-size="8.7" fill="#484848">0</text>
<text x="820.5" y="416.15" font-size="8.7" fill="#484848">0</text>
<text x="74.6" y="387.6" text-anchor="end" font-size="8.7" fill="#484848">0.1</text>
<text x="820.5" y="387.6" font-size="8.7" fill="#484848">0.1</text>
<text x="74.6" y="359.06" text-anchor="end" font-size="8.7" fill="#484848">0.2</text>
<text x="820.5" y="359.06" font-size="8.7" fill="#484848">0.2</text>
<text x="74.6" y="330.51" text-anchor="end" font-size="8.7" fill="#484848">0.3</text>
<text x="820.5" y="330.51" font-size="8.7" fill="#484848">0.3</text>
<text x="74.6" y="301.97" text-anchor="end" font-size="8.7" fill="#484848">0.4</text>
<text x="820.5" y="301.97" font-size="8.7" fill="#484848">0.4</text>
<text x="74.6" y="273.42" text-anchor="end" font-size="8.7" fill="#484848">0.5</text>
<text x="820.5" y="273.42" font-size="8.7" fill="#484848">0.5</text>
<text x="74.6" y="244.88" text-anchor="end" font-size="8.7" fill="#484848">0.6</text>
<text x="820.5" y="244.88" font-size="8.7" fill="#484848">0.6</text>
<text x="74.6" y="216.33" text-anchor="end" font-size="8.7" fill="#484848">0.7</text>
<text x="820.5" y="216.33" font-size="8.7" fill="#484848">0.7</text>
<text x="74.6" y="187.79" text-anchor="end" font-size="8.7" fill="#484848">0.8</text>
<text x="820.5" y="187.79" font-size="8.7" fill="#484848">0.8</text>
<text x="74.6" y="159.24" text-anchor="end" font-size="8.7" fill="#484848">0.9</text>
<text x="820.5" y="159.24" font-size="8.7" fill="#484848">0.9</text>
<text x="74.6" y="130.7" text-anchor="end" font-size="8.7" fill="#484848">1</text>
<text x="820.5" y="130.7" font-size="8.7" fill="#484848">1</text>
<text x="74.0" y="102.15" text-anchor="end" letter-spacing="-0.6" font-size="8.7" fill="#484848">1.1</text>
<text x="820.4" y="102.15" letter-spacing="-0.6" font-size="8.7" fill="#484848">1.1</text>
<text x="776.7" y="102.15" font-size="8.7" fill="#484848">$200k</text>
<text x="776.7" y="138.48" font-size="8.7" fill="#484848">$100k</text>
<text x="776.7" y="174.8" font-size="8.7" fill="#484848">$50k</text>
<text x="776.7" y="222.82" font-size="8.7" fill="#484848">$20k</text>
<text x="776.7" y="259.15" font-size="8.7" fill="#484848">$10k</text>
<text x="776.7" y="295.48" font-size="8.7" fill="#484848">$5k</text>
<text x="776.7" y="343.5" font-size="8.7" fill="#484848">$2k</text>
<text x="776.7" y="379.82" font-size="8.7" fill="#484848">$1k</text>
<text x="776.7" y="416.15" font-size="8.7" fill="#484848">$500</text>
<text x="110.4" y="432.2" text-anchor="middle" font-size="9.45" fill="#484848">2017</text>
<text x="184.03" y="432.2" text-anchor="middle" font-size="9.45" fill="#484848">2018</text>
<text x="257.66" y="432.2" text-anchor="middle" font-size="9.45" fill="#484848">2019</text>
<text x="331.29" y="432.2" text-anchor="middle" font-size="9.45" fill="#484848">2020</text>
<text x="404.92" y="432.2" text-anchor="middle" font-size="9.45" fill="#484848">2021</text>
<text x="478.55" y="432.2" text-anchor="middle" font-size="9.45" fill="#484848">2022</text>
<text x="552.18" y="432.2" text-anchor="middle" font-size="9.45" fill="#484848">2023</text>
<text x="625.81" y="432.2" text-anchor="middle" font-size="9.45" fill="#484848">2024</text>
<text x="699.44" y="432.2" text-anchor="middle" font-size="9.45" fill="#484848">2025</text>
<use href="#gn" transform="translate(770,489.5)" color="#1a1a1a"/>
<circle cx="20.4" cy="57" r="2.4" fill="#111"/><circle cx="91.9" cy="57" r="2.4" fill="#f7a145"/><circle cx="193.95" cy="57" r="2.4" fill="#c8262c"/>
<g transform="translate(890,1.9)" fill="none" stroke="#4d88c6" stroke-width="0.95" stroke-linecap="round" stroke-linejoin="round">
<circle cx="4.6" cy="4.9" r="9.2" fill="#fff" stroke="#f4f4f4" stroke-width="0.8"/>
<path d="M0.5,2.7V2Q0.5,0.5 2,0.5H2.7M6.5,0.5H7.2Q8.7,0.5 8.7,2V2.7M8.7,6.5V7.2Q8.7,8.7 7.2,8.7H6.5M2.7,8.7H2Q0.5,8.7 0.5,7.2V6.5"/>
<circle cx="4.6" cy="4.6" r="1.25" fill="#7fa9d8" stroke-width="0.9"/>
</g>
</svg>
<div class="title">OG Whale Dumping</div>
<div class="leg" style="left:25.2px">BTC: Price [USD]</div>
<div class="leg" style="left:96.3px">Spent Value 7yr+ &gt; $100M</div>
<div class="leg" style="left:198.3px">Spent Value 7yr+ &gt; $1/2B</div>
<div class="foot">© 2025 Glassnode. All Rights Reserved.</div>
</body></html>
